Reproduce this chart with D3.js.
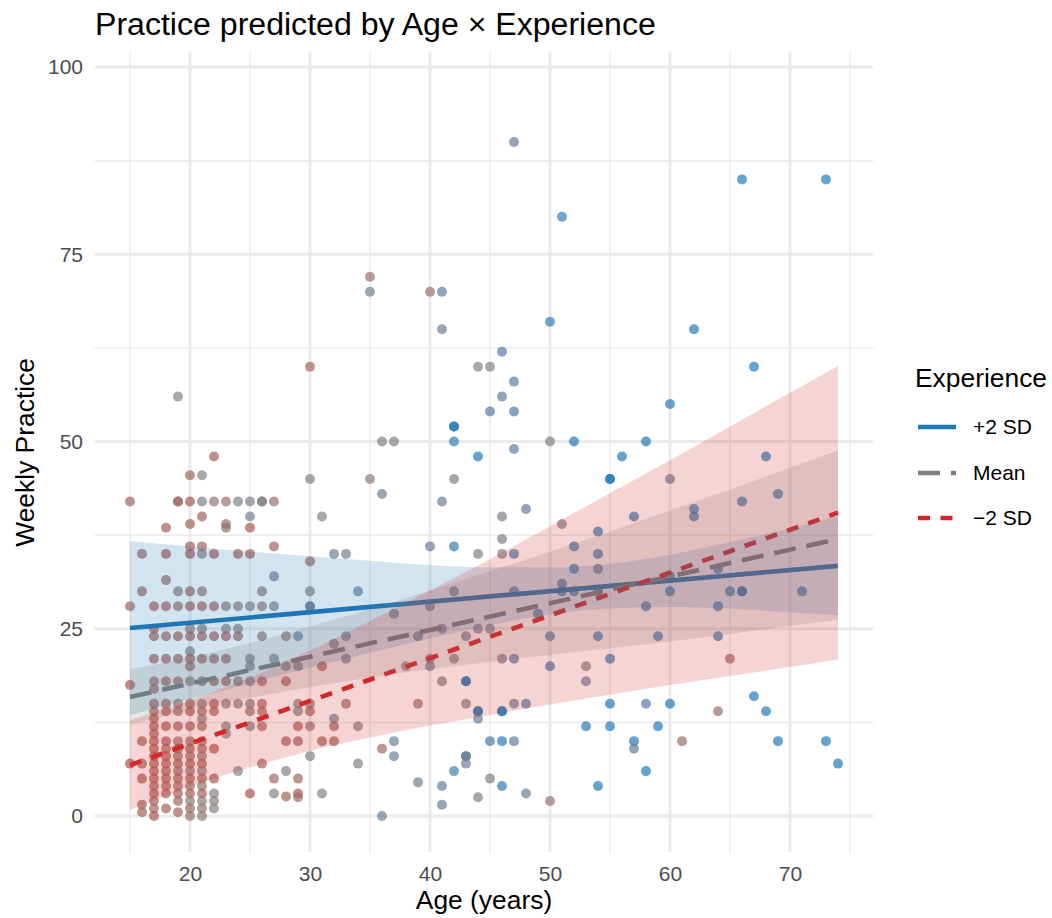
<!DOCTYPE html>
<html>
<head>
<meta charset="utf-8">
<script src="https://cdn.jsdelivr.net/npm/d3@7"></script>
<style>
  body { margin: 0; background: #fff; }
  text { font-family: "Liberation Sans", Arial, Helvetica, sans-serif; }
</style>
</head>
<body>
<svg id="chart" width="1052" height="918"></svg>
<script>
// observations: [age, weekly practice, experience (z, -1 = low, +1 = high)]
const youngPoints = [
  [15,42,-.45],[15,28,-.45],[15,17.5,-.65],[15,7,-.65],
  [16,35,-.45],[16,30,-.45],[16,10,-.45],[16,7,-.45],[16,5,-.55],[16,1.5,-.45],[16,0.5,-.45],
  [17,28,-.6],[17,25,-.55],[17,24,-.55],[17,21,-.6],[17,18,-.45],[17,17,-.5],[17,15,-.6],[17,14,-.55],[17,13,-.5],[17,12,-.6],[17,11,-.5],
  [17,10,-.6],[17,9,-.6],[17,8,-.5],[17,7,-.55],[17,6,-.55],[17,5,-.6],[17,4,-.5],[17,3,-.55],[17,2,-.5],[17,1,-.45],[17,0,-.6],
  [18,38.5,-.45],[18,35,-.6],[18,31.5,-.45],[18,28,-.6],[18,24,-.45],[18,21,-.6],[18,18,-.6],[18,15,-.6],[18,14,-.55],[18,12,-.6],
  [18,10,-.55],[18,9,-.5],[18,8,-.6],[18,7,-.55],[18,6,-.5],[18,5,-.55],[18,4,-.5],[18,3,-.45],[18,1,-.45],
  [19,56,0],[19,42,-.55],[19,42,-.3],[19,30,-.1],[19,28,-.3],[19,24,-.55],[19,21,-.55],[19,18,-.5],[19,15,-.3],[19,14,-.3],[19,12,-.5],
  [19,10,-.35],[19,9,-.5],[19,8,-.3],[19,7,-.5],[19,6,-.35],[19,5,-.5],[19,4,-.3],[19,3,-.55],[19,2,-.4],[19,0.5,-.45],
  [20,45.5,-.45],[20,42,-.6],[20,39,-.45],[20,36,-.5],[20,35,-.6],[20,30,-.6],[20,28,-.6],[20,25,-.2],[20,24,-.55],[20,22,-.1],
  [20,21,-.6],[20,20,-.45],[20,18,-.2],[20,15,-.55],[20,14,-.5],[20,12,-.5],[20,10,-.35],[20,9,-.55],[20,8,-.3],[20,7,-.5],
  [20,6,-.2],[20,5,-.5],[20,4,-.3],[20,3,-.55],[20,2,-.1],[20,1,-.4],[20,0,-.3],
  [21,45.5,0],[21,42,.1],[21,40,-.45],[21,36,-.45],[21,35,-.1],[21,30,-.2],[21,28,-.55],[21,25,-.1],[21,24,-.55],[21,21,-.55],
  [21,18,-.55],[21,15,-.1],[21,14,-.3],[21,13,0],[21,12,-.35],[21,10,-.3],[21,9,-.45],[21,8,-.2],[21,7,-.5],[21,6,-.1],
  [21,5,-.45],[21,4,-.2],[21,3,-.5],[21,2,-.1],[21,1,-.2],[21,0,-.15],
  [22,48,-.45],[22,42,-.25],[22,35,-.6],[22,28,-.6],[22,24,-.6],[22,21,-.6],[22,18,-.6],[22,15,-.55],[22,14,-.45],[22,9,-.65],
  [22,5,-.6],[22,3,-.05],[22,2,-.1],[22,1,-.05],
  [23,42,-.25],[23,39,-.25],[23,38.5,-.25],[23,28,-.2],[23,25,-.05],[23,24,-.6],[23,21,-.55],[23,18,-.7],[23,15,-.05],[23,12,0],[23,11,0],
  [24,42,.05],[24,35,-.55],[24,28,-.2],[24,25,0],[24,24,-.5],[24,18,-.25],[24,15,0],[24,6,0],
  [25,42,.1],[25,40,.2],[25,38.5,-.6],[25,35,-.55],[25,28,0],[25,21,.05],[25,20,0],[25,18,0],[25,15,.05],[25,14,-.2],[25,12,.2],[25,3,-.6],
  [26,42,.1],[26,42,-.05],[26,30,-.2],[26,28,-.25],[26,24,-.25],[26,18,-.45],[26,15,-.45],[26,14,-.45],[26,12,-.45],[26,7,-.45],
  [27,42,-.25],[27,36,-.45],[27,32,.25],[27,28,.05],[27,21,.1],[27,5,-.4],[27,3,0],
  [28,24,-.2],[28,20,0],[28,18,-.55],[28,10,-.45],[28,6,0],[28,2.6,-.45],
  [29,24,.3],[29,20,0],[29,15,0],[29,14,0],[29,12,-.55],[29,10,-.45],[29,5,-.4],[29,3,-.55],[29,2.5,-.3],
  [30,60,-.4],[30,45,0],[30,34,-.45],[30,30,0],[30,28,.1],[30,28,.25],[30,15,-.2],[30,14,-.45],[30,12,-.2],[30,8,0],
  [31,40,0],[31,20,-.55],[31,10,-.45],[31,3,0]
];
const middlePoints = [
  [32,35,.3],[32,23,.3],[32,13,.3],[32,12,-.45],[32,10,-.45],
  [33,35,.1],[33,24,.3],[33,21,.3],[33,15,-.4],
  [34,30,.35],[34,12,.05],[34,7,.05],
  [35,72,-.3],[35,70,.25],[35,45,-.15],
  [36,50,0],[36,43,.25],[36,9,-.4],[36,0,.3],
  [37,50,0],[37,27,.35],[37,10,.3],[37,8,.3],
  [38,20,0],
  [39,24,.35],[39,15,-.3],[39,4.5,.2],
  [40,70,-.3],[40,36,.35],[40,28,.05],[40,21,.05],[40,20,.35],
  [41,70,.5],[41,65,.3],[41,42,.3],[41,25,.35],[41,18,.1],[41,4,.35],[41,1.5,.35],
  [42,52,1],[42,52,.8],[42,50,.7],[42,45,.05],[42,36,.7],[42,30,.4],[42,21,.05],[42,6,.6],
  [43,24,.35],[43,18,1],[43,18,.8],[43,15,.1],[43,8,-.1],[43,8,.5],[43,7,.3],
  [44,60,0],[44,48,.8],[44,35,.05],[44,25,.35],[44,14,1],[44,14,.8],[44,13,.35],[44,2.5,.05],
  [45,60,0],[45,54,.55],[45,25,.35],[45,10,.6],[45,5,.05],
  [46,62,.45],[46,56,.45],[46,40,.1],[46,37,.1],[46,35,.1],[46,21,.1],[46,14,1],[46,14,.8],[46,10,.8],[46,4,.7],
  [47,90,.35],[47,58,.45],[47,54,.6],[47,49,.45],[47,35,.7],[47,30,.6],[47,21,.6],[47,15,.35],[47,10,.4],
  [48,41,.35],[48,15,.6],[48,3,.35],
  [49,27,.7],
  [50,66,.7],[50,50,.05],[50,24,.7],[50,20,.7],[50,2,-.2]
];
const olderPoints = [
  [51,80,.7],[51,39,.2],[51,31,.7],[51,30,.7],
  [52,50,.85],[52,36,.8],[52,33,.8],[52,30,.8],
  [53,20,.05],[53,18,.35],[53,12,.8],
  [54,38,.8],[54,35,.8],[54,33,.4],[54,30,.8],[54,24,.8],[54,4,.85],
  [55,45,1],[55,45,.8],[55,21,.8],[55,15,.8],[55,12,.8],
  [56,48,.8],
  [57,40,.8],[57,10,.8],[57,9,.35],
  [58,50,.8],[58,28,.8],[58,15,.45],[58,6,.8],
  [59,24,.8],[59,12,.8],
  [60,55,.85],[60,45,.4],[60,32,.8],[60,30,.8],[60,15,.8],
  [61,10,-.3],
  [62,65,.8],[62,41,.8],[62,40,.8],
  [64,33,.8],[64,28,.8],[64,24,.8],[64,14,-.3],
  [65,30,.8],[65,21,-.35],
  [66,85,.8],[66,42,.8],[66,30,1],[66,30,.8],
  [67,60,.8],[67,16,.8],
  [68,48,.8],[68,14,.8],
  [69,43,.8],[69,10,.8],
  [71,30,.8],
  [73,85,.8],[73,10,.8],
  [74,7,.8]
];

// predicted lines and 95% bands at three experience levels
const lineAges  = [15, 74];
const fitHigh   = [25.1, 33.4];
const fitMean   = [15.9, 37.0];
const fitLow    = [6.8, 40.5];

const bandAges  = [15, 20, 25, 30, 35, 40, 45, 50, 55, 60, 65, 70, 74];
const highLower = [13.5, 15.6, 17.7, 19.8, 21.8, 23.7, 25.5, 26.9, 27.7, 27.9, 27.7, 27.2, 26.8];
const highUpper = [36.7, 36.0, 35.3, 34.7, 34.1, 33.5, 33.2, 33.2, 33.7, 34.9, 36.6, 38.4, 40.0];
const meanLower = [12.2, 14.2, 15.8, 17.2, 18.5, 19.6, 20.6, 21.5, 22.4, 23.3, 24.3, 25.4, 26.2];
const meanUpper = [19.6, 21.2, 23.1, 25.3, 27.6, 30.1, 32.7, 35.3, 38.0, 40.8, 43.6, 46.5, 48.8];
const lowLower  = [0.8, 3.9, 6.5, 8.7, 10.5, 12.1, 13.5, 14.9, 16.2, 17.5, 18.7, 19.9, 20.9];
const lowUpper  = [12.8, 15.4, 18.5, 22.1, 26.0, 30.1, 34.3, 38.7, 43.1, 47.5, 52.0, 56.5, 60.1];

const levels  = ["+2 SD", "Mean", "\u22122 SD"];
const colours = ["#1f77b4", "#7f7f7f", "#d62728"];
const dashes  = [null, "22,11", "12,10.5"];

const xMajor = [20, 30, 40, 50, 60, 70];
const xMinor = [15, 25, 35, 45, 55, 65, 75];
const yMajor = [0, 25, 50, 75, 100];
const yMinor = [12.5, 37.5, 62.5, 87.5];

const svg = d3.select("#chart");
const x = d3.scaleLinear().domain([12.05, 76.95]).range([94.6, 873.4]);
const y = d3.scaleLinear().domain([-4.8, 101.9]).range([852, 52.8]);
const [x0, x1] = x.range();
const [y0, y1] = y.range();

const colour = d3.scaleLinear()
  .domain([-1, 0, 0.8])
  .range(["#b8262a", "#7f7f7f", "#1f77b4"])
  .interpolate(d3.interpolateLab)
  .clamp(true);

// grid
const grid = svg.append("g").attr("stroke", "#ebebeb");
grid.selectAll(".ymin").data(yMinor).join("line")
  .attr("x1", x0).attr("x2", x1).attr("y1", d => y(d)).attr("y2", d => y(d)).attr("stroke-width", 1.5);
grid.selectAll(".xmin").data(xMinor).join("line")
  .attr("y1", y0).attr("y2", y1).attr("x1", d => x(d)).attr("x2", d => x(d)).attr("stroke-width", 1.5);
grid.selectAll(".ymaj").data(yMajor).join("line")
  .attr("x1", x0).attr("x2", x1).attr("y1", d => y(d)).attr("y2", d => y(d)).attr("stroke-width", 3);
grid.selectAll(".xmaj").data(xMajor).join("line")
  .attr("y1", y0).attr("y2", y1).attr("x1", d => x(d)).attr("x2", d => x(d)).attr("stroke-width", 3);

// axes (labels only)
const xAxis = svg.append("g")
  .attr("transform", `translate(0,${y0})`)
  .call(d3.axisBottom(x).tickValues(xMajor).tickSize(0).tickPadding(14));
const yAxis = svg.append("g")
  .attr("transform", `translate(${x0},0)`)
  .call(d3.axisLeft(y).tickValues(yMajor).tickSize(0).tickPadding(11.6));
[xAxis, yAxis].forEach(a => {
  a.select(".domain").remove();
  a.selectAll("text").attr("fill", "#4d4d4d").style("font-size", "21px")
    .style("font-family", "'Liberation Sans', Arial, sans-serif");
});

// points
const allPoints = youngPoints.concat(middlePoints, olderPoints);
svg.append("g").selectAll("circle").data(allPoints).join("circle")
  .attr("cx", d => x(d[0]))
  .attr("cy", d => y(d[1]))
  .attr("r", 5)
  .attr("fill", d => colour(d[2]))
  .attr("fill-opacity", 0.68);

// lines
const fits = [fitHigh, fitMean, fitLow];
const line = d3.line().x(d => x(d[0])).y(d => y(d[1]));
fits.forEach((f, i) => {
  svg.append("path")
    .datum(lineAges.map((a, j) => [a, f[j]]))
    .attr("d", line)
    .attr("fill", "none")
    .attr("stroke", colours[i])
    .attr("stroke-width", 4.6)
    .attr("stroke-dasharray", dashes[i]);
});

// ribbons on top
const bands = [[highLower, highUpper], [meanLower, meanUpper], [lowLower, lowUpper]];
const area = d3.area().x(d => x(d.a)).y0(d => y(d.lo)).y1(d => y(d.hi)).curve(d3.curveMonotoneX);
bands.forEach((b, i) => {
  svg.append("path")
    .datum(bandAges.map((a, j) => ({a: a, lo: b[0][j], hi: b[1][j]})))
    .attr("d", area)
    .attr("fill", colours[i])
    .attr("fill-opacity", 0.2);
});

// titles
svg.append("text").attr("x", 95).attr("y", 35).style("font-size", "32.1px")
  .text("Practice predicted by Age \u00d7 Experience");
svg.append("text").attr("x", (x0 + x1) / 2).attr("y", 909).attr("text-anchor", "middle")
  .style("font-size", "26.4px").text("Age (years)");
svg.append("text").attr("transform", `translate(34,${(y0 + y1) / 2}) rotate(-90)`)
  .attr("text-anchor", "middle").style("font-size", "26.4px").text("Weekly Practice");

// legend
const legend = svg.append("g").attr("transform", "translate(915,0)");
legend.append("text").attr("x", 0).attr("y", 387).style("font-size", "26.4px").text("Experience");
const keyY = [427, 473, 518];
levels.forEach((lab, i) => {
  legend.append("line")
    .attr("x1", 3).attr("x2", 41).attr("y1", keyY[i]).attr("y2", keyY[i])
    .attr("stroke", colours[i]).attr("stroke-width", 4.6)
    .attr("stroke-dasharray", dashes[i]);
  legend.append("text").attr("x", 58).attr("y", keyY[i]).attr("dy", "0.35em")
    .style("font-size", "21px").text(lab);
});
</script>
</body>
</html>
